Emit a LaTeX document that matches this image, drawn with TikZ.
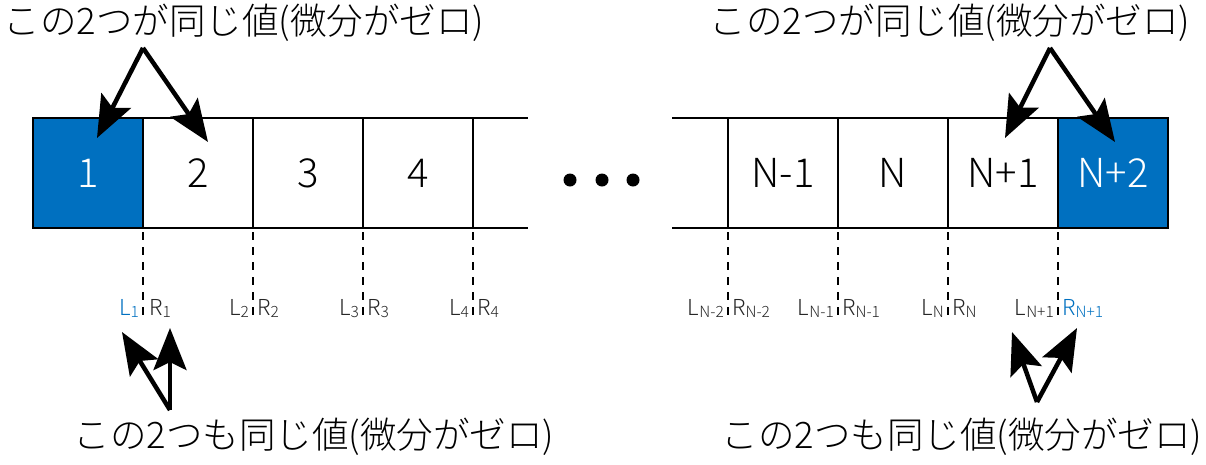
\documentclass[tikz,border=0pt]{standalone}
\usepackage{fontspec}
\IfFontExistsTF{Noto Sans CJK JP Light}{\setmainfont{Noto Sans CJK JP Light}}{\setmainfont{Noto Sans CJK JP}}
\usetikzlibrary{arrows.meta}
\definecolor{cellblue}{HTML}{0070C0}
\newcommand\lrlab[2]{#1\raisebox{-2pt}{\fontsize{15.5}{15.5}\selectfont #2}}
\begin{document}
\begin{tikzpicture}[x=1pt,y=-1pt,
  cell/.style={draw=black,line width=2pt,minimum width=110pt,minimum height=110pt,inner sep=0pt,outer sep=0pt,anchor=north west,font=\fontsize{40}{40}\selectfont},
  bluecell/.style={cell,fill=cellblue,text=white},
  edge/.style={line width=2pt},
  guide/.style={line width=1.8pt,dash pattern=on 8pt off 7pt},
  bigarrow/.style={line width=4.5pt,-{Stealth[length=42pt,width=33pt,inset=8pt]}},
  note/.style={font=\fontsize{36.5}{36.5}\selectfont,inner sep=0pt},
  lab/.style={font=\fontsize{22}{22}\selectfont,inner sep=0pt,text=black!85},
  dot/.style={circle,fill=black,minimum size=13pt,inner sep=0pt}]
\useasboundingbox (0,0) rectangle (1206,464);
% left cells
\node[bluecell] (c1) at (33,118) {1};
\node[cell] (c2) at (143,118) {2};
\node[cell] (c3) at (253,118) {3};
\node[cell] (c4) at (363,118) {4};
\coordinate (le1) at (528,118);
\coordinate (le2) at (528,228);
\draw[edge] (c4.north east) -- (le1);
\draw[edge] (c4.south east) -- (le2);
% dots
\node[dot] (d1) at (570,180) {};
\node[dot] (d2) at (602,180) {};
\node[dot] (d3) at (633,180) {};
% right cells
\node[cell] (cn1) at (728,118) {N-1};
\node[cell] (cn) at (838,118) {N};
\node[cell] (cp1) at (948,118) {N+1};
\node[bluecell] (cp2) at (1058,118) {N+2};
\coordinate (re1) at (672,118);
\coordinate (re2) at (672,228);
\draw[edge] (re1) -- (cn1.north west);
\draw[edge] (re2) -- (cn1.south west);
% dashed guides
\foreach \n/\a in {c1/south east,c2/south east,c3/south east,c4/south east,cn1/south west,cn/south west,cp1/south west,cp1/south east}{
  \draw[guide] (\n.\a) ++(0,4) -- ++(0,86);
}
% labels
\node[lab,anchor=base east,text=cellblue] (L1) at (139,315) {\lrlab{L}{1}};
\node[lab,anchor=base west] (R1) at (149,315) {\lrlab{R}{1}};
\node[lab,anchor=base east] (L2) at (249,315) {\lrlab{L}{2}};
\node[lab,anchor=base west] (R2) at (257,315) {\lrlab{R}{2}};
\node[lab,anchor=base east] (L3) at (359,315) {\lrlab{L}{3}};
\node[lab,anchor=base west] (R3) at (367,315) {\lrlab{R}{3}};
\node[lab,anchor=base east] (L4) at (469,315) {\lrlab{L}{4}};
\node[lab,anchor=base west] (R4) at (477,315) {\lrlab{R}{4}};
\node[lab,anchor=base east] (LN2) at (724,315) {\lrlab{L}{N-2}};
\node[lab,anchor=base west] (RN2) at (732,315) {\lrlab{R}{N-2}};
\node[lab,anchor=base east] (LN1) at (834,315) {\lrlab{L}{N-1}};
\node[lab,anchor=base west] (RN1) at (842,315) {\lrlab{R}{N-1}};
\node[lab,anchor=base east] (LN) at (944,315) {\lrlab{L}{N}};
\node[lab,anchor=base west] (RN) at (952,315) {\lrlab{R}{N}};
\node[lab,anchor=base east] (LP1) at (1054,315) {\lrlab{L}{N+1}};
\node[lab,anchor=base west,text=cellblue] (RP1) at (1062,315) {\lrlab{R}{N+1}};
% notes
\node[note] (t1) at (244,23) {この2つが同じ値(微分がゼロ)};
\node[note] (t2) at (950,23) {この2つが同じ値(微分がゼロ)};
\node[note] (b1) at (314,437) {この2つも同じ値(微分がゼロ)};
\node[note] (b2) at (962,437) {この2つも同じ値(微分がゼロ)};
% arrow points
\coordinate (a1) at (143,48);
\coordinate (a1l) at (97,138);
\coordinate (a1r) at (208,142);
\coordinate (a2) at (1050,48);
\coordinate (a2l) at (1005,138);
\coordinate (a2r) at (1115,142);
\coordinate (a3) at (170,410);
\coordinate (a3l) at (122,332);
\coordinate (a3r) at (170,328);
\coordinate (a4) at (1037,402);
\coordinate (a4l) at (1012,332);
\coordinate (a4r) at (1077,328);
\draw[bigarrow] (a1) -- (a1l);
\draw[bigarrow] (a1) -- (a1r);
\draw[bigarrow] (a2) -- (a2l);
\draw[bigarrow] (a2) -- (a2r);
\draw[bigarrow] (a3) -- (a3l);
\draw[bigarrow] (a3) -- (a3r);
\draw[bigarrow] (a4) -- (a4l);
\draw[bigarrow] (a4) -- (a4r);
\end{tikzpicture}
\end{document}
